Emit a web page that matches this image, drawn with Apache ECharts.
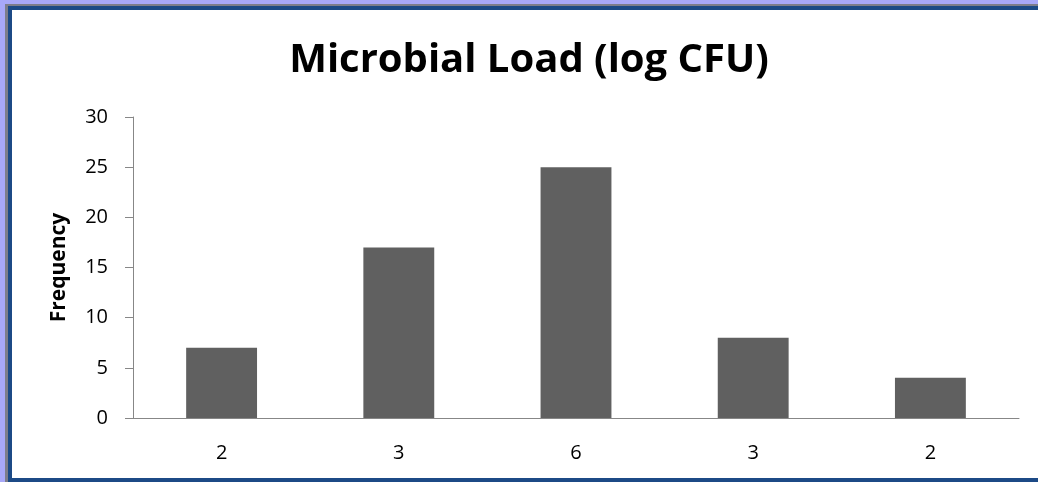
<!DOCTYPE html>
<html>
<head>
<meta charset="utf-8">
<script src="https://cdn.jsdelivr.net/npm/echarts@6/dist/echarts.min.js"></script>
<style>
  body { margin: 0; background: #a8a8f8; overflow: hidden; }
  #frame { position: absolute; left: 5px; top: 4px; width: 1040px; height: 478px;
           box-sizing: border-box; border-left: 3px solid #7d7d8a; border-top: 2px solid #7d7d8a; }
  #inner { position: absolute; left: 0; top: 0; right: 0; bottom: 0;
           border: 4px solid #1c4a86; border-right: none; background: #fff; }
  #chart { position: absolute; left: 0; top: 0; width: 1038px; height: 482px; }
</style>
</head>
<body>
<div id="frame"><div id="inner"></div></div>
<div id="chart"></div>
<script>
var categories = ['2', '3', '6', '3', '2'];
var frequency = [7, 17, 25, 8, 4];
var yTicks = [0, 5, 10, 15, 20, 25, 30];

var myChart = echarts.init(document.getElementById('chart'));
var axisColor = '#878787';
var option = {
  animation: false,
  title: {
    text: 'Microbial Load (log CFU)',
    left: 524,
    textAlign: 'center',
    top: 36,
    textStyle: { fontFamily: 'Open Sans', fontWeight: 'bold', fontSize: 40, color: '#000' }
  },
  grid: { left: 133, right: 19, top: 117, bottom: 64 },
  xAxis: {
    type: 'category',
    data: categories,
    axisLine: { lineStyle: { color: axisColor } },
    axisTick: { length: 8, lineStyle: { color: axisColor } },
    axisLabel: { color: '#000', fontFamily: 'Open Sans', fontSize: 20, margin: 25 }
  },
  yAxis: {
    type: 'value',
    min: yTicks[0],
    max: yTicks[yTicks.length - 1],
    interval: 5,
    name: 'Frequency',
    nameLocation: 'middle',
    nameGap: 63,
    nameTextStyle: { color: '#000', fontFamily: 'Open Sans', fontWeight: 'bold', fontSize: 21 },
    axisLine: { show: true, lineStyle: { color: axisColor } },
    axisTick: { show: true, length: 8, lineStyle: { color: axisColor } },
    splitLine: { show: false },
    axisLabel: { color: '#000', fontFamily: 'Open Sans', fontSize: 20, margin: 25 }
  },
  series: [{
    name: 'Frequency',
    type: 'bar',
    data: frequency,
    barWidth: '40%',
    itemStyle: { color: '#606060' }
  }]
};
myChart.setOption(option);
</script>
</body>
</html>
